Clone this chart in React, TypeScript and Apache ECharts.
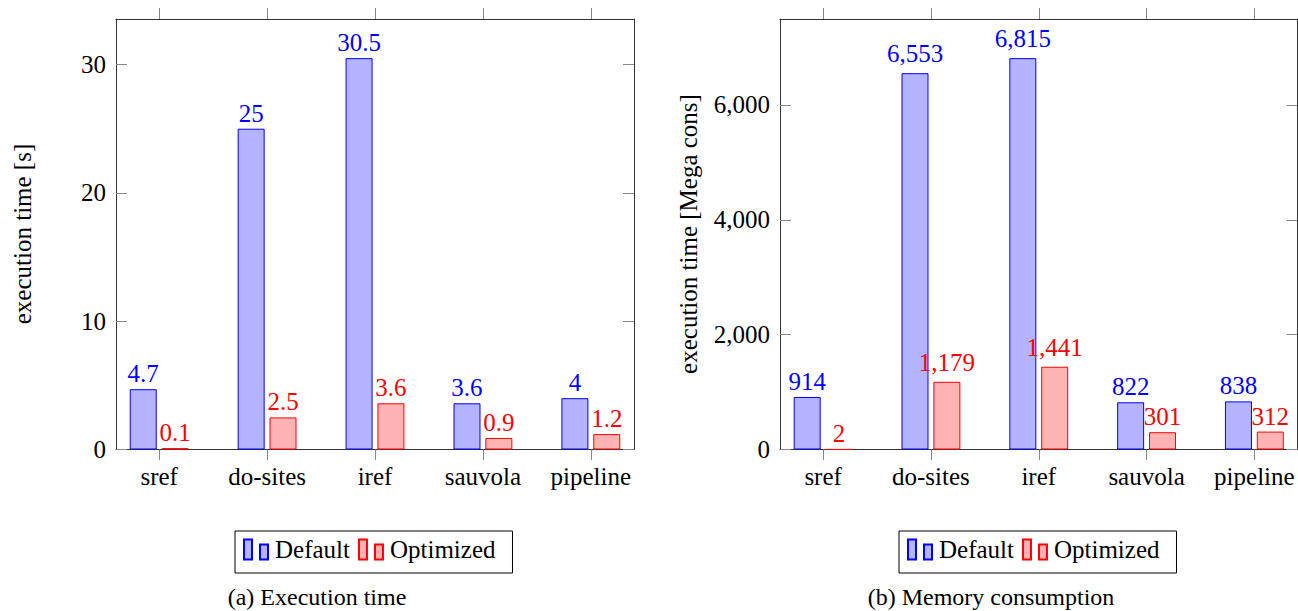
import React, { useEffect, useRef } from "react";
import * as echarts from "echarts";

const categories = ["sref", "do-sites", "iref", "sauvola", "pipeline"];
const timeDefault = [4.7, 25, 30.5, 3.6, 4];
const timeOptimized = [0.1, 2.5, 3.6, 0.9, 1.2];
const memDefault = [914, 6553, 6815, 822, 838];
const memOptimized = [2, 1179, 1441, 301, 312];
const timeTicks = [0, 10, 20, 30];
const memTicks = [0, 2000, 4000, 6000];
const catPositions = [0, 1, 2, 3, 4];
const seriesNames = ["Default", "Optimized"];
const yNames = ["execution time [s]", "execution time [Mega cons]"];
const captions = ["(a) Execution time", "(b) Memory consumption"];

const FONT = "'Liberation Serif', 'Times New Roman', serif";
const FS = 25;
const LINE = "#333";
const TICK = "#888";
const BLUE = "#0000ff";
const BLUE_FILL = "#b3b3ff";
const RED = "#ff0000";
const RED_FILL = "#ffb3b3";

const fmtNum = (v: number) => v.toLocaleString("en-US");

export default function App() {
  const ref = useRef<HTMLDivElement>(null);
  useEffect(() => {
    if (!ref.current) return;
    const chart = echarts.init(ref.current, undefined, { renderer: "svg" });

    const grids = [
      { left: 116, top: 19, width: 518, height: 430.5 },
      { left: 780, top: 19, width: 517.5, height: 430.5 },
    ];
    const yMax = [Math.max(...timeDefault) * 1.1, Math.max(...memDefault) * 1.1];
    const yTicks = [timeTicks, memTicks];
    const yFmt = [(v: number) => String(v), (v: number) => fmtNum(v)];

    const xAxis: any[] = [];
    const yAxis: any[] = [];
    [0, 1].forEach((g) => {
      xAxis.push({
        type: "value",
        gridIndex: g,
        position: "bottom",
        min: -0.4,
        max: 4.4,
        axisLine: { show: true, onZero: false, lineStyle: { color: LINE, width: 1 } },
        axisTick: { show: true, inside: false, length: 10.5, customValues: catPositions, lineStyle: { color: TICK } },
        axisLabel: {
          show: true,
          customValues: catPositions,
          margin: 14,
          formatter: (v: number) => categories[Math.round(v)],
          color: "#000",
          fontFamily: FONT,
          fontSize: FS,
        },
        splitLine: { show: false },
      });
      xAxis.push({
        type: "value",
        gridIndex: g,
        position: "top",
        min: -0.4,
        max: 4.4,
        axisLine: { show: true, onZero: false, lineStyle: { color: LINE, width: 1 } },
        axisTick: { show: true, inside: false, length: 11, customValues: catPositions, lineStyle: { color: TICK } },
        axisLabel: { show: false },
        splitLine: { show: false },
      });
      yAxis.push({
        type: "value",
        gridIndex: g,
        position: "left",
        min: 0,
        max: yMax[g],
        axisLine: { show: true, onZero: false, lineStyle: { color: LINE, width: 1 } },
        axisTick: { show: true, inside: true, length: 11, customValues: yTicks[g], lineStyle: { color: TICK } },
        axisLabel: {
          show: true,
          customValues: yTicks[g],
          margin: 10,
          formatter: yFmt[g],
          color: "#000",
          fontFamily: FONT,
          fontSize: FS,
        },
        splitLine: { show: false },
      });
      yAxis.push({
        type: "value",
        gridIndex: g,
        position: "right",
        min: 0,
        max: yMax[g],
        axisLine: { show: true, onZero: false, lineStyle: { color: LINE, width: 1 } },
        axisTick: { show: true, inside: true, length: 11, customValues: yTicks[g], lineStyle: { color: TICK } },
        axisLabel: { show: false },
        splitLine: { show: false },
      });
    });

    const makeSeries = (
      name: string,
      values: number[],
      g: number,
      stroke: string,
      fill: string,
      fmt: (v: number) => string
    ) => ({
      type: "bar",
      name,
      xAxisIndex: g * 2,
      yAxisIndex: g * 2,
      data: values.map((v, i) => {
        const txt = fmt(v);
        return txt.indexOf(",") >= 0
          ? { value: [catPositions[i], v], label: { distance: 7 } }
          : { value: [catPositions[i], v] };
      }),
      barWidth: 27,
      barGap: "18%",
      itemStyle: { color: fill, borderColor: stroke, borderWidth: 1 },
      label: {
        show: true,
        position: "top",
        distance: 3,
        color: stroke,
        fontFamily: FONT,
        fontSize: FS,
        formatter: (p: any) => fmt(p.value[1]),
      },
    });

    const series = [
      makeSeries(seriesNames[0], timeDefault, 0, BLUE, BLUE_FILL, (v) => String(v)),
      makeSeries(seriesNames[1], timeOptimized, 0, RED, RED_FILL, (v) => String(v)),
      makeSeries(seriesNames[0], memDefault, 1, BLUE, BLUE_FILL, fmtNum),
      makeSeries(seriesNames[1], memOptimized, 1, RED, RED_FILL, fmtNum),
    ];

    const legendBase = {
      data: seriesNames,
      orient: "horizontal",
      icon: "path://M0,0h8v20h-8z M16,5h8v15h-8z",
      itemWidth: 24,
      itemHeight: 20,
      itemGap: 8,
      borderColor: "#000",
      borderWidth: 1,
      padding: [6, 17, 11, 8],
      selectedMode: false,
      textStyle: { color: "#000", fontFamily: FONT, fontSize: FS, padding: [0, 0, 0, 2] },
      top: 531,
    };

    const option: any = {
      animation: false,
      backgroundColor: "#fff",
      grid: grids,
      xAxis,
      yAxis,
      series,
      legend: [
        { ...legendBase, left: 235 },
        { ...legendBase, left: 899 },
      ],
      graphic: [
        {
          type: "text",
          x: 22,
          y: 234,
          rotation: Math.PI / 2,
          style: { text: yNames[0], fill: "#000", font: `${FS}px ${FONT}`, textAlign: "center", textVerticalAlign: "middle" },
        },
        {
          type: "text",
          x: 688,
          y: 234,
          rotation: Math.PI / 2,
          style: { text: yNames[1], fill: "#000", font: `${FS}px ${FONT}`, textAlign: "center", textVerticalAlign: "middle" },
        },
        {
          type: "text",
          x: 317,
          y: 597,
          style: { text: captions[0], fill: "#000", font: `24px ${FONT}`, textAlign: "center", textVerticalAlign: "middle" },
        },
        {
          type: "text",
          x: 991,
          y: 597,
          style: { text: captions[1], fill: "#000", font: `24px ${FONT}`, textAlign: "center", textVerticalAlign: "middle" },
        },
      ],
    };
    chart.setOption(option);
    return () => chart.dispose();
  }, []);
  return (
    <div
      ref={ref}
      style={{ position: "fixed", left: 0, top: 0, width: 1298, height: 611, background: "#fff" }}
    />
  );
}
